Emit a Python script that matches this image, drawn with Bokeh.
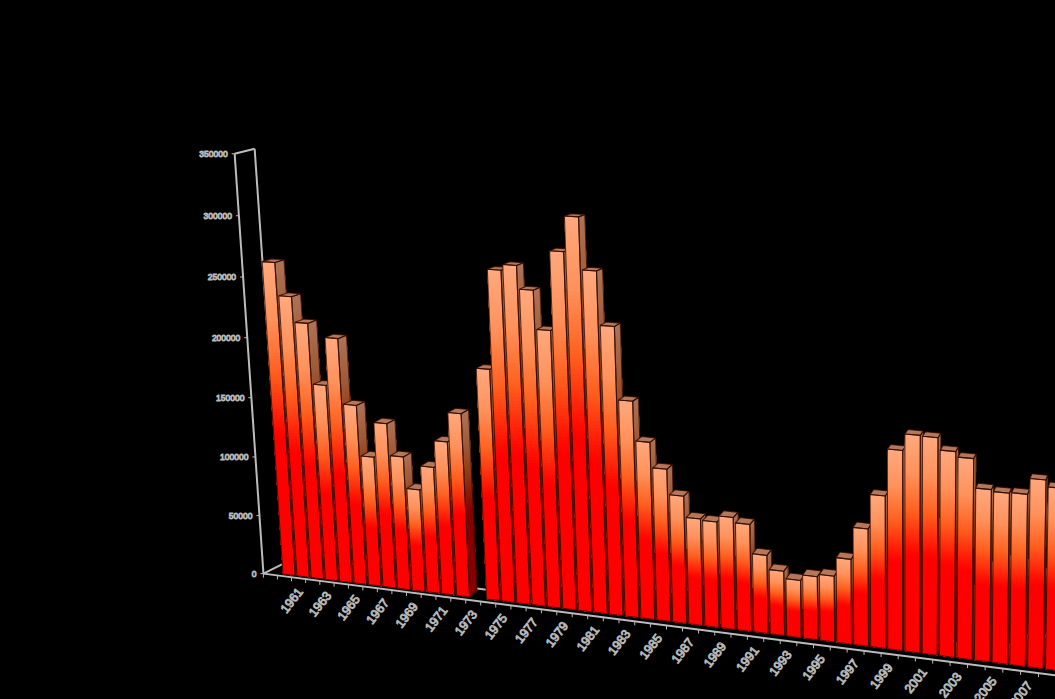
from bokeh.plotting import figure
from bokeh.models import ColumnDataSource, Range1d
from bokeh.core.properties import value
from bokeh.embed import file_html
from bokeh.resources import INLINE

years = list(range(1961, 2010))
totals = [263400, 236300, 215400, 165200, 204900, 150900, 109200, 138300, 112000, 86000,
          106000, 128200, 152500, None, 190600, 270400, 275000, 256400, 225700, 288300,
          316000, 275000, 232900, 175400, 144200, 124200, 104200, 87500, 86500, 91500,
          87500, 64500, 53500, 47800, 52300, 54300, 69000, 94000, 120800, 156800,
          169500, 169000, 159800, 155800, 133800, 132500, 133000, 145000, 140000]
y_ticks = [0, 50000, 100000, 150000, 200000, 250000, 300000, 350000]
x_labels = list(range(1961, 2008, 2))

W, H = 1055, 699
AXIS = "#bcbcbc"
EDGE = "#2e0a00"


def g(v):
    n = v / 50000
    return n * (57.67 + 0.33 * n)


def floor_x(t):
    return 291 + 14.1 * t / (1 - 0.0024 * t)


def project(t, v, lift=0.0, scale=1.0):
    """Perspective projection of (category position, value) onto the page."""
    tx = floor_x(t)
    by = 571 + 0.1285 * (tx - 262) + lift
    h = scale * g(v) / (1 - 0.0024 * t)
    return tx + (tx - 905) * h / 9363, by - h


def foot(t):
    x, y = project(t, 0)
    return x, y - min(3.0, max(0.0, 0.00625 * (x - 283)))


def deep(p, f=0.0097):
    return p[0] + f * (1230 - p[0]), p[1] + f * (-22 - p[1])


def stop_color(f):
    stops = [(0.0, (255, 168, 125)), (0.18, (255, 145, 90)), (0.35, (255, 95, 30)),
             (0.53, (255, 10, 0)), (0.56, (255, 0, 0)), (1.0, (255, 0, 0))]
    for (a, ca), (b, cb) in zip(stops, stops[1:]):
        if f <= b:
            k = (f - a) / (b - a)
            return tuple(ca[i] + (cb[i] - ca[i]) * k for i in range(3))
    return stops[-1][1]


def hexc(c, m=1.0):
    return "#%02x%02x%02x" % tuple(int(round(x * m)) for x in c)


def mix(a, b, f):
    return a[0] + (b[0] - a[0]) * f, a[1] + (b[1] - a[1]) * f


polys = dict(xs=[], ys=[], fill=[], fa=[], line=[], la=[], lw=[])


def add(pts, fill, line, fa=1.0, la=1.0, lw=0.6):
    polys["xs"].append([p[0] for p in pts])
    polys["ys"].append([p[1] for p in pts])
    polys["fill"].append(fill)
    polys["fa"].append(fa)
    polys["line"].append(line)
    polys["la"].append(la)
    polys["lw"].append(lw)


fractions = [i * 0.56 / 56 for i in range(57)]
for i, v in enumerate(totals):
    if v is None:
        continue
    fl_top = project(i - 0.61, v)
    fr_top = project(i + 0.265, v)
    fl_bot = foot(i - 0.61)
    fr_bot = foot(i + 0.265)
    # side face: each band runs to the foot, the next one paints over it
    for a in fractions:
        c = hexc(stop_color(a), 0.68 - 0.16 * min(1.0, a / 0.5))
        q = mix(fr_top, fr_bot, a)
        add([q, deep(q), deep(fr_bot), fr_bot], c, c, 1.0, 0.0, 0.0)
    # top face
    c = hexc(stop_color(0), 0.71)
    add([fl_top, fr_top, deep(fr_top), deep(fl_top)], c, c, 1.0, 0.0, 0.0)
    # front face
    for a in fractions:
        c = hexc(stop_color(a))
        add([mix(fl_top, fl_bot, a), mix(fr_top, fr_bot, a), fr_bot, fl_bot], c, c, 1.0, 0.0, 0.0)
    # edges
    add([fr_top, deep(fr_top), deep(fr_bot), fr_bot], "#000000", EDGE, 0.0, 0.8, 1.1)
    add([fl_top, fr_top, deep(fr_top), deep(fl_top)], "#000000", EDGE, 0.0, 0.8, 1.1)
    add([fl_top, fr_top, fr_bot, fl_bot], "#000000", EDGE, 0.0, 0.8, 1.1)

p = figure(width=W, height=H, x_range=Range1d(0, W), y_range=Range1d(H, 0),
           output_backend="svg", toolbar_location=None, min_border=0,
           background_fill_color="#000000", border_fill_color="#000000",
           outline_line_color=None, x_axis_location=None, y_axis_location=None)
p.grid.visible = False

# walls, floor and ticks
T0, T1 = -2, 49
WALL = 1.0048
wf, wb = project(T0, 0, 2, WALL), project(T0, y_ticks[-1], 2, WALL)
p.line([wf[0], wb[0]], [wf[1], wb[1]], line_color=AXIS, line_width=2)
p.line([wb[0], wb[0] + 20], [wb[1], wb[1] - 5], line_color=AXIS, line_width=2)
p.line([wb[0] + 20, wf[0] + 20], [wb[1] - 5, wf[1] - 10], line_color=AXIS, line_width=2)
p.line([wf[0], wf[0] + 20], [wf[1], wf[1] - 10], line_color=AXIS, line_width=2)
fe = project(T1, 0, 2)
p.line([wf[0] + 20, fe[0] + 20], [wf[1] - 10, fe[1] - 10], line_color=AXIS, line_width=2)
p.line([wf[0], fe[0]], [wf[1], fe[1]], line_color=AXIS, line_width=2)

tick_pts = [project(t, 0, 2) for t in range(T0, T1 + 1)]
p.segment([q[0] for q in tick_pts], [q[1] for q in tick_pts],
          [q[0] for q in tick_pts], [q[1] + 4 for q in tick_pts],
          line_color=AXIS, line_width=1)
yt_pts = [project(T0, v, 2, WALL) for v in y_ticks]
p.segment([q[0] - 3 for q in yt_pts], [q[1] for q in yt_pts],
          [q[0] for q in yt_pts], [q[1] for q in yt_pts],
          line_color=AXIS, line_width=1)

p.patches("xs", "ys", source=ColumnDataSource(polys), fill_color="fill", fill_alpha="fa",
          line_color="line", line_alpha="la", line_width="lw")

# labels
p.text([q[0] - 7 for q in yt_pts], [q[1] for q in yt_pts], text=[str(v) for v in y_ticks],
       text_align="right", text_baseline="middle", text_font=value("Liberation Sans"),
       text_font_size="8.5px", text_color="#000000", text_outline_color="#b8b8b8")
lab_pts = [project(y - years[0], 0, 2) for y in x_labels]
p.text([q[0] for q in lab_pts], [q[1] + 23 for q in lab_pts], text=[str(y) for y in x_labels],
       angle=52, angle_units="deg", text_align="center", text_baseline="middle",
       text_font=value("Liberation Sans"), text_font_size="12.5px",
       text_color="#000000", text_outline_color="#b8b8b8")

html = file_html(p, INLINE)
html = html.replace("<head>", "<head><style>html,body{margin:0;padding:0;background:#000;overflow:hidden}</style>", 1)
open("out.html", "w").write(html)
